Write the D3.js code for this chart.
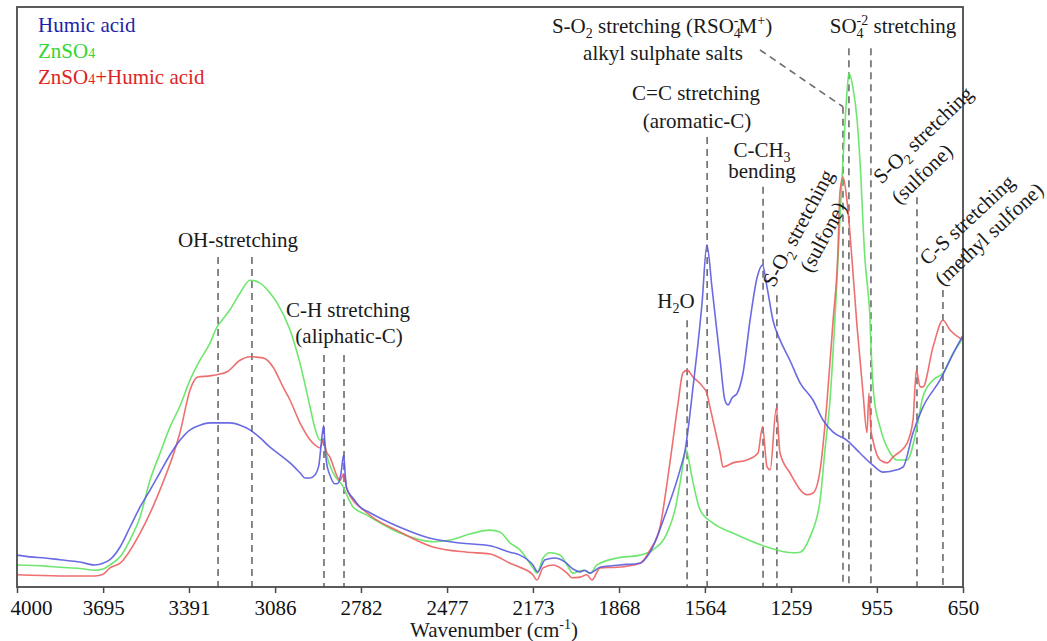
<!DOCTYPE html>
<html><head><meta charset="utf-8">
<script src="https://cdn.jsdelivr.net/npm/d3@7"></script>
<style>
body{margin:0;background:#fff;}
svg text{font-family:"Liberation Serif","Times New Roman",serif;}
</style></head><body>
<svg id="chart" width="1047" height="641"></svg>
<script>
// ---------- data ----------
const xTicks = [4000,3695,3391,3086,2782,2477,2173,1868,1564,1259,955,650];
const seriesNames = ["Humic acid","ZnSO4","ZnSO4+Humic acid"];

const humicWn  = [4000,3954,3901,3848,3777,3724,3695,3671,3635,3600,3564,3529,3494,3458,3423,3387,3352,3317,3281,3246,3210,3175,3139,3104,3069,3033,2998,2980,2962,2945,2931,2923,2914,2909,2904,2892,2874,2863,2853,2843,2838,2833,2810,2785,2750,2715,2644,2537,2431,2325,2254,2219,2173,2156,2130,2095,2059,2031,2006,1989,1971,1935,1865,1794,1758,1705,1652,1634,1606,1574,1557,1539,1510,1493,1482,1468,1450,1429,1404,1379,1360,1344,1323,1298,1263,1227,1181,1146,1110,1061,1015,969,933,884,862,827,792,731,678,650];
const humicVal = [5.5,5.2,5.0,4.7,4.3,3.8,4.1,4.7,6.9,10.3,13.8,16.7,19.7,22.8,25.3,27.1,27.9,28.3,28.3,28.3,27.9,27.1,25.7,24.1,22.8,21.4,19.7,18.8,18.8,19.3,21.0,24.5,27.9,24.0,21.5,19.3,17.8,17.9,19.5,22.8,19.5,17.1,15.3,13.8,12.8,11.9,10.3,8.4,7.6,7.1,6.0,5.5,3.8,2.6,4.7,5.0,4.3,3.1,2.6,2.9,2.4,3.4,3.8,4.1,6.0,12.4,20.2,23.6,34.5,49.0,59.0,51.7,39.1,32.2,31.4,32.6,33.4,36.9,46.0,53.4,55.5,51.7,46.0,42.6,39.1,35.2,32.2,28.8,26.7,25.3,23.1,21.0,19.8,20.2,20.7,26.6,31.0,35.7,40.9,43.4];

const znWn  = [4000,3900,3848,3777,3724,3695,3671,3635,3600,3564,3529,3494,3458,3423,3387,3352,3317,3292,3274,3246,3210,3175,3139,3104,3079,3033,2998,2962,2945,2927,2914,2906,2881,2849,2810,2761,2644,2527,2466,2406,2325,2290,2254,2219,2173,2159,2137,2113,2077,2052,2031,1996,1971,1946,1875,1794,1748,1698,1670,1652,1630,1620,1610,1581,1535,1465,1344,1252,1227,1192,1156,1139,1121,1100,1086,1075,1061,1054,1040,1025,1015,997,987,980,976,966,944,908,884,848,813,792,756,721,685,650];
const znVal = [3.8,3.6,3.4,3.2,2.9,3.1,3.8,5.2,8.1,12.1,18.4,23.0,27.6,31.2,35.7,39.1,42.0,44.8,46.0,47.8,50.7,52.9,52.4,50.7,49.0,44.3,38.6,31.0,27.4,25.3,25.6,23.3,19.7,17.6,13.8,12.4,9.3,7.8,8.1,9.0,9.8,9.5,7.6,6.4,3.3,2.4,5.0,5.9,5.5,3.8,2.4,2.9,2.4,3.8,5.0,5.5,6.4,9.3,13.3,17.9,23.6,21.6,19.0,13.3,11.0,9.3,6.9,5.9,6.0,8.6,15.0,23.6,32.2,49.5,63.3,73.6,85.2,88.6,86.2,80.5,73.6,56.4,51.2,46.9,41.7,33.1,27.6,23.1,21.9,21.9,27.6,32.8,35.7,36.9,40.3,42.9];

const mixWn  = [4000,3848,3724,3695,3671,3635,3564,3494,3423,3387,3377,3359,3317,3292,3256,3210,3175,3129,3093,3058,3033,2998,2952,2927,2914,2906,2892,2856,2843,2831,2761,2644,2527,2406,2325,2254,2219,2173,2159,2137,2102,2052,2035,2006,1982,1964,1935,1875,1794,1758,1723,1698,1677,1659,1642,1627,1606,1571,1557,1546,1510,1500,1465,1415,1376,1360,1344,1333,1311,1298,1263,1202,1181,1156,1132,1110,1093,1086,1075,1061,1043,1025,1004,990,983,976,969,944,919,898,848,827,815,802,792,756,721,696,661,650];
const mixVal = [2.1,1.9,1.9,2.2,3.3,4.1,9.3,16.7,26.6,34.0,35.2,36.2,36.4,36.6,37.1,39.1,39.7,39.5,37.9,34.5,32.2,28.3,24.8,24.0,25.5,23.6,22.4,18.4,19.5,16.7,12.8,9.5,6.9,6.0,5.7,4.1,3.4,2.1,1.2,3.3,3.8,2.4,1.6,1.7,2.1,1.2,3.3,3.4,4.1,6.4,10.3,17.9,25.3,31.7,36.9,37.4,36.2,34.5,33.4,31.0,23.1,20.7,21.4,21.9,23.1,27.6,20.7,20.2,30.9,23.1,19.7,15.9,16.2,20.2,31.7,46.0,57.6,67.9,70.7,66.7,56.4,44.8,33.4,26.6,33.4,27.1,25.3,21.9,21.4,22.4,24.8,28.8,37.4,34.5,34.5,41.4,46.0,44.3,42.9,42.6];

// band marker lines (wavenumber, top of dashed line in y units)
const bandWn  = [3288,3168,2913,2842,1627,1556,1358,1309,1075,1054,976,813,721];
const bandTop = [56.9,56.9,40.0,40.0,46.0,77.6,69.0,50.3,82.8,92.9,92.9,67.2,51.2];

// ---------- chart ----------
const svg = d3.select("#chart");
const W = 1047, H = 641;
const m = {l:17, r:84, t:7, b:54};
const x = d3.scaleLinear().domain([4000,650]).range([m.l, W-m.r]);
const y = d3.scaleLinear().domain([0,100]).range([H-m.b, m.t]);

// dashed band markers
svg.append("g").selectAll("line").data(bandWn).join("line")
  .attr("x1", d=>x(d)).attr("x2", d=>x(d))
  .attr("y1", (d,i)=>y(bandTop[i])).attr("y2", y(0))
  .attr("stroke","#6b6b6b").attr("stroke-width",1.6).attr("stroke-dasharray","7,5");
// leader line for alkyl sulphate label
svg.append("line")
  .attr("x1", x(1369)).attr("y1", y(92.6)).attr("x2", x(1075)).attr("y2", y(82.8))
  .attr("stroke","#6b6b6b").attr("stroke-width",1.6).attr("stroke-dasharray","7,5");

// curves
const line = d3.line().x(d=>x(d[0])).y(d=>y(d[1])).curve(d3.curveMonotoneX);
const series = [
  {wn: znWn, v: znVal, color:"#5fe35f"},
  {wn: mixWn, v: mixVal, color:"#ec5f5f"},
  {wn: humicWn, v: humicVal, color:"#5a5ae0"}
];
series.forEach(s=>{
  const pts = s.wn.map((w,i)=>[w, s.v[i]]);
  svg.append("path").datum(pts).attr("d", line)
    .attr("fill","none").attr("stroke", s.color).attr("stroke-width",1.6)
    .attr("stroke-opacity",0.9).attr("stroke-linejoin","round");
});

// frame
svg.append("rect").attr("x", m.l).attr("y", m.t)
  .attr("width", W-m.l-m.r).attr("height", H-m.t-m.b)
  .attr("fill","none").attr("stroke","#4a4a4a").attr("stroke-width",1.8);

// x axis
const ax = svg.append("g").attr("transform",`translate(0,${H-m.b})`)
  .call(d3.axisBottom(x).tickValues(xTicks).tickSize(6).tickSizeOuter(0).tickFormat(d3.format("d")));
ax.select(".domain").remove();
ax.selectAll(".tick line").attr("stroke","#4a4a4a").attr("stroke-width",1.5);
ax.selectAll(".tick text").attr("font-family","Liberation Serif, Times New Roman, serif")
  .attr("font-size","21px").attr("fill","#111").attr("y",10).attr("dy","0.85em");
ax.selectAll(".tick text").filter(d=>d===4000).attr("dx", 14);

// rich text helper
function rich(sel, parts){
  let shift = 0;
  parts.forEach(p=>{
    const target = p.s==="sub" ? 5 : (p.s==="sup" ? -8 : 0);
    const ts = sel.append("tspan").attr("dy", target-shift).text(p.t);
    if (p.s) ts.attr("font-size","14px");
    if (p.dx) ts.attr("dx", p.dx);
    shift = target;
  });
  return sel;
}
function label(xp, yp, parts, opts={}){
  const g = svg.append("g").attr("transform",`translate(${xp},${yp})` + (opts.rot ? ` rotate(${opts.rot})` : ""));
  const t = g.append("text").attr("text-anchor", opts.anchor || "middle")
    .attr("y", opts.rot ? 7 : 0)
    .attr("font-size", (opts.size||21)+"px").attr("fill", opts.color || "#1a1a1a");
  rich(t, parts);
  return t;
}

// axis title
label(494, 637, [{t:"Wavenumber (cm"},{t:"-1",s:"sup"},{t:")"}], {size:21});

// legend
label(38, 32, [{t:"Humic acid"}], {anchor:"start", color:"#1f1fa8"});
label(38, 58, [{t:"ZnSO"},{t:"4", s:"low"}], {anchor:"start", color:"#33d633"});
label(38, 84, [{t:"ZnSO"},{t:"4", s:"low"},{t:"+Humic acid"}], {anchor:"start", color:"#dd2424"});

// annotations
label(238, 247, [{t:"OH-stretching"}]);
label(348, 317, [{t:"C-H stretching"}]);
label(349, 343, [{t:"(aliphatic-C)"}]);
label(676, 308, [{t:"H"},{t:"2",s:"sub"},{t:"O"}]);
label(696, 100, [{t:"C=C stretching"}]);
label(697, 128, [{t:"(aromatic-C)"}]);
label(762, 157, [{t:"C-CH"},{t:"3",s:"sub"}]);
label(762, 178, [{t:"bending"}]);
label(662, 33, [{t:"S-O"},{t:"2",s:"sub"},{t:" stretching (RSO"},{t:"4",s:"sub"},{t:"-",s:"sup",dx:-7},{t:"M"},{t:"+",s:"sup"},{t:")"}]);
label(663, 60, [{t:"alkyl sulphate salts"}]);
label(893, 33, [{t:"SO"},{t:"4",s:"sub"},{t:"-2",s:"sup",dx:-7},{t:" stretching"}]);

label(798, 228, [{t:"S-O"},{t:"2",s:"sub"},{t:" stretching"}], {rot:-62});
label(823, 237, [{t:"(sulfone)"}], {rot:-62});
label(923, 135, [{t:"S-O"},{t:"2",s:"sub"},{t:" stretching"}], {rot:-44});
label(922, 174, [{t:"(sulfone)"}], {rot:-44});
label(967, 220, [{t:"C-S stretching"}], {rot:-43});
label(989, 234, [{t:"(methyl sulfone)"}], {rot:-43});
</script>
</body></html>
